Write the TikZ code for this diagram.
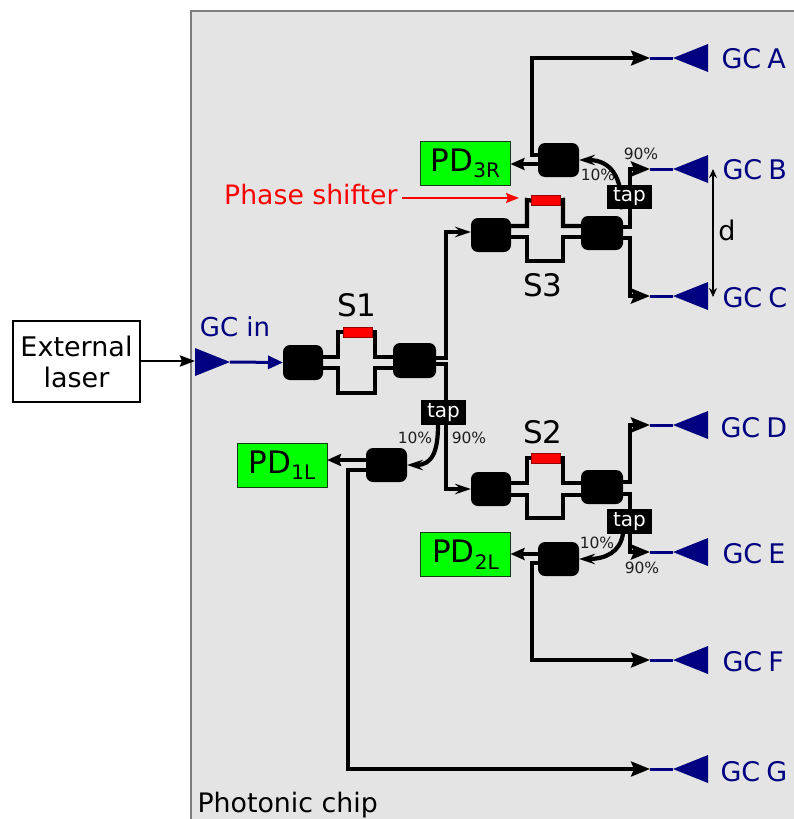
\documentclass[tikz,border=0pt]{standalone}
\usepackage{fontspec}
\setmainfont{DejaVu Sans}
\usetikzlibrary{arrows.meta,shapes.geometric}
\definecolor{chipgray}{HTML}{E4E4E4}
\definecolor{navyblue}{HTML}{000080}
\pgfdeclarelayer{chiplayer}
\pgfdeclarelayer{guides}
\pgfsetlayers{chiplayer,guides,main}
\newcommand{\fsz}[1]{\fontsize{#1}{#1}\selectfont}
\newcommand{\pdtext}[1]{\fsz{31}PD\raisebox{-6.5pt}{\fsz{20}#1}}
\tikzset{
  x=1pt,y=-1pt,
  block/.style={fill=black,rounded corners=7pt,inner sep=0pt,outer sep=0pt},
  heater/.style={fill=red,draw={rgb,255:red,150;green,0;blue,0},line width=1pt,minimum width=29pt,minimum height=10pt,inner sep=0pt,outer sep=0pt},
  tapbox/.style={fill=black,text=white,font=\fsz{20},minimum width=45pt,minimum height=24.5pt,inner sep=0pt,outer sep=0pt},
  pdbox/.style={fill=green,draw={rgb,255:red,20;green,60;blue,20},line width=1pt,minimum width=90pt,minimum height=44pt,inner sep=0pt,outer sep=0pt},
  grating/.style={isosceles triangle,isosceles triangle stretches,shape border rotate=180,fill=navyblue,minimum width=28pt,minimum height=35pt,inner sep=0pt,outer sep=0pt,anchor=apex},
  gclabel/.style={text=navyblue,font={\fsz{27}\spaceskip=6pt\relax}},
  pct/.style={font=\fsz{15.5},text={rgb,255:red,30;green,30;blue,30}},
  sname/.style={font=\fsz{31}},
  wg/.style={line width=4.2pt,line join=miter,draw=black},
  route/.style={line width=3.1pt,line join=miter,draw=black},
  bigtip/.style={-{Stealth[length=19pt,width=15pt,inset=3pt]}},
  smalltip/.style={-{Stealth[length=16pt,width=10.5pt,inset=5.5pt]}},
  pdtip/.style={-{Stealth[length=14pt,width=12pt,inset=2pt]}},
  fiber/.style={line width=3pt,draw=navyblue},
}
\begin{document}
\begin{tikzpicture}
\useasboundingbox (0,0) rectangle (794,819);
\begin{pgfonlayer}{chiplayer}
\fill[chipgray] (191,11) rectangle (794,819);
\draw[line width=1.6pt,draw={rgb,255:red,125;green,125;blue,125}] (191,819) -- (191,11) -- (794,11);
\end{pgfonlayer}

% outside
\node[draw=black,line width=1.6pt,fill=white,minimum width=127pt,minimum height=81pt,inner sep=0pt,outer sep=0pt,align=center,font=\fsz{27}] (laser) at (76.5,361.5) {External\\[4pt]laser};

% gratings
\node[grating] (gin) at (230,362) [shape border rotate=0,anchor=apex] {};
\foreach \n/\y in {A/58,B/169,C/296,D/425,E/552,F/660,G/769}{
  \node[grating] (g\n) at (673,\y) {};
  \coordinate (j\n) at (650,\y);
}
\node[gclabel,anchor=mid west] (tA) at (718,66) {GC A};
\node[gclabel,anchor=mid west] (tB) at (719,177) {GC B};
\node[gclabel,anchor=mid west] (tC) at (719,305) {GC C};
\node[gclabel,anchor=mid west] (tD) at (717,435) {GC D};
\node[gclabel,anchor=mid west] (tE) at (719,561) {GC E};
\node[gclabel,anchor=mid west] (tF) at (719,669) {GC F};
\node[gclabel,anchor=mid west] (tG) at (717,779) {GC G};
\node[text=navyblue,font=\fsz{26}] (tin) at (235,327) {GC in};

% S1
\node[block,minimum width=40pt,minimum height=35pt] (s1L) at (303,362.5) {};
\node[block,minimum width=43pt,minimum height=35pt] (s1R) at (414.5,360.5) {};
\node[heater] (h1) at (357.5,332) {};
\node[sname] (n1) at (357,305) {S1};
% S3
\node[block,minimum width=40pt,minimum height=34pt] (s3L) at (491,235) {};
\node[block,minimum width=42pt,minimum height=34pt] (s3R) at (602,233) {};
\node[heater] (h3) at (545.5,200.5) {};
\node[sname] (n3) at (543,285) {S3};
% S2
\node[block,minimum width=40pt,minimum height=34pt] (s2L) at (491,489) {};
\node[block,minimum width=42pt,minimum height=34pt] (s2R) at (602,487) {};
\node[heater] (h2) at (545.5,458) {};
\node[sname] (n2) at (543,432) {S2};

% taps
\node[tapbox] (t1) at (443.5,412.5) {tap};
\node[tapbox] (t3) at (629.5,197) {tap};
\node[tapbox] (t2) at (629.5,521.5) {tap};

% monitor splitters
\node[block,minimum width=41pt,minimum height=34pt] (m1) at (386.5,465) {};
\node[block,minimum width=41pt,minimum height=34pt] (m3) at (558.5,160) {};
\node[block,minimum width=41pt,minimum height=34pt] (m2) at (558.5,559) {};

% photodiodes
\node[pdbox] (pd1) at (282,465) {\pdtext{1L}};
\node[pdbox] (pd3) at (465.5,163.5) {\pdtext{3R}};
\node[pdbox] (pd2) at (465.5,554.5) {\pdtext{2L}};

% labels
\node[pct] (p1a) at (415,438) {10\%};
\node[pct] (p1b) at (469,438) {90\%};
\node[pct] (p3a) at (598,175) {10\%};
\node[pct] (p3b) at (641,154) {90\%};
\node[pct] (p2a) at (597,543) {10\%};
\node[pct] (p2b) at (642,568) {90\%};
\node[text=red,font=\fsz{26.7},anchor=east] (ps) at (401,195) {Phase shifter};
\coordinate (psend) at (519,198);
\coordinate (dtop) at (713,169);
\coordinate (dbot) at (713,297);
\node[font=\fsz{27}] (dlab) at (727,230) {d};
\node[font=\fsz{26.8},anchor=base west] (chip) at (194,812) {Photonic chip};

\begin{pgfonlayer}{guides}
% input
\draw[line width=2.8pt,-{Stealth[length=15pt,width=11pt,inset=2pt]}] (laser.east |- 0,361) -- (gin.west |- 0,361);
\draw[fiber,-{Stealth[length=15pt,width=13pt,inset=0pt]}] (gin.apex) -- (s1L.west);
% gratings feed
\foreach \n in {A,B,C,D,E,F,G}{ \draw[fiber] (j\n) -- (g\n.apex); }
% S1 arms
\draw[wg] (s1L.east |- 0,357) -- (338,357) -- (338,332) -- (h1.west);
\draw[wg] (h1.east) -- (375,332) -- (375,357) -- (s1R.west |- 0,357);
\draw[wg] (s1L.east |- 0,368) -- (338,368) -- (338,393) -- (375,393) -- (375,368) -- (s1R.west |- 0,368);
% S3 arms
\draw[wg] (s3L.east |- 0,226) -- (527,226) -- (527,200) -- (h3.west);
\draw[wg] (h3.east) -- (563,200) -- (563,226) -- (s3R.west |- 0,226);
\draw[wg] (s3L.east |- 0,237) -- (527,237) -- (527,261) -- (563,261) -- (563,237) -- (s3R.west |- 0,237);
% S2 arms
\draw[wg] (s2L.east |- 0,483) -- (527,483) -- (527,458) -- (h2.west);
\draw[wg] (h2.east) -- (563,458) -- (563,483) -- (s2R.west |- 0,483);
\draw[wg] (s2L.east |- 0,495) -- (527,495) -- (527,518) -- (563,518) -- (563,495) -- (s2R.west |- 0,495);
% S1 outputs
\draw[route,smalltip] (s1R.east |- 0,358) -- (446,358) -- (446,232) -- (s3L.west |- 0,232);
\draw[route,smalltip] (s1R.east |- 0,364) -- (446,364) -- (446,489) -- (s2L.west);
% S3 outputs
\draw[wg,bigtip] (s3R.east |- 0,227) -- (630,227) -- (630,169) -- (jB);
\draw[wg,bigtip] (s3R.east |- 0,238) -- (630,238) -- (630,296) -- (jC);
% S2 outputs
\draw[wg,bigtip] (s2R.east |- 0,482) -- (630,482) -- (630,425) -- (jD);
\draw[wg,bigtip] (s2R.east |- 0,494) -- (630,494) -- (630,552) -- (jE);
% tap branches
\draw[wg,smalltip] (t1.south -| 438,0) .. controls (438,452) and (432,465) .. (m1.east);
\draw[wg,smalltip] (t3.south -| 622,0) .. controls (622,168) and (604,160) .. (m3.east);
\draw[wg,smalltip] (t2.south -| 623,0) .. controls (620,552) and (606,559) .. (m2.east);
% monitor outputs
\draw[wg,pdtip] (m1.west |- 0,460) -- (pd1.east |- 0,460);
\draw[wg,pdtip] (m3.west |- 0,164) -- (pd3.east |- 0,164);
\draw[wg,pdtip] (m2.west |- 0,554) -- (pd2.east |- 0,554);
\draw[route,bigtip] (m1.west |- 0,470) -- (348,470) -- (348,769) -- (jG);
\draw[route,bigtip] (m3.west |- 0,155) -- (532,155) -- (532,58) -- (jA);
\draw[route,bigtip] (m2.west |- 0,563) -- (532,563) -- (532,660) -- (jF);
% annotations
\draw[red,line width=2pt,-{Stealth[length=13pt,width=10pt,inset=2pt]}] ([xshift=1pt]ps.east |- psend) -- (psend);
\draw[black,line width=1.8pt,{Stealth[length=9pt,width=8pt]}-{Stealth[length=9pt,width=8pt]}] (dtop) -- (dbot);
\end{pgfonlayer}
\end{tikzpicture}
\end{document}
